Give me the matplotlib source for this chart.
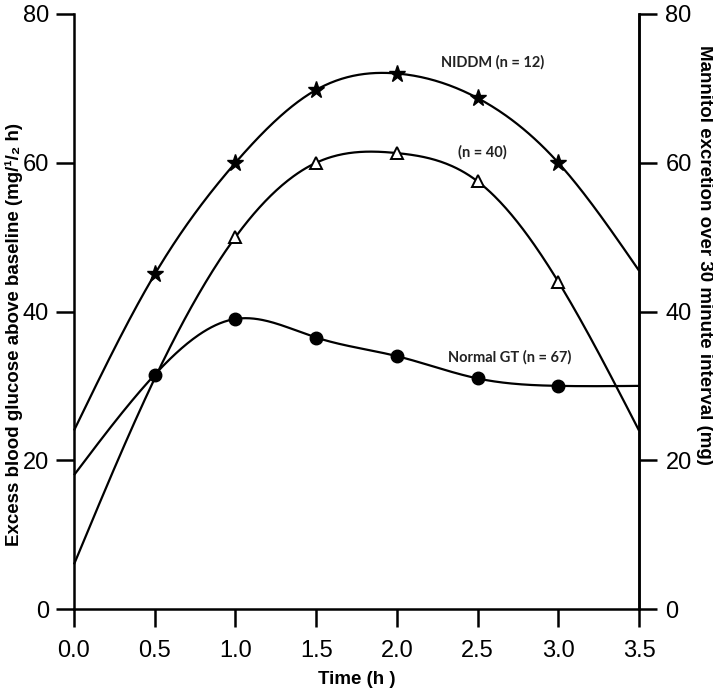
import numpy as np
import matplotlib
matplotlib.use("Agg")
import matplotlib.pyplot as plt
from matplotlib import font_manager

# ---- data ----
times = [0.5, 1.0, 1.5, 2.0, 2.5, 3.0]
niddm = [45.0, 60.0, 69.8, 72.0, 68.7, 60.0]
igt_times = [1.0, 1.5, 2.0, 2.5, 3.0]
igt = [50.0, 60.0, 61.3, 57.5, 44.0]
normal = [31.5, 39.0, 36.5, 34.0, 31.0, 30.0]

# smooth-curve knots (curves extend to the axis limits)
curve_times = [0.0, 0.5, 1.0, 1.5, 2.0, 2.5, 3.0, 3.5]
niddm_curve = [24.0, 45.0, 60.0, 69.8, 72.0, 68.7, 60.0, 45.5]
igt_curve = [6.0, 31.0, 50.0, 60.0, 61.3, 57.5, 44.0, 24.0]
normal_curve = [18.0, 31.5, 39.0, 36.5, 34.0, 31.0, 30.0, 30.0]

xticks = [0.0, 0.5, 1.0, 1.5, 2.0, 2.5, 3.0, 3.5]
yticks = [0, 20, 40, 60, 80]


def natural_spline(x, y, xs):
    x = np.asarray(x, float)
    y = np.asarray(y, float)
    n = len(x)
    h = np.diff(x)
    A = np.zeros((n, n))
    r = np.zeros(n)
    A[0, 0] = 1
    A[-1, -1] = 1
    for i in range(1, n - 1):
        A[i, i - 1] = h[i - 1]
        A[i, i] = 2 * (h[i - 1] + h[i])
        A[i, i + 1] = h[i]
        r[i] = 3 * ((y[i + 1] - y[i]) / h[i] - (y[i] - y[i - 1]) / h[i - 1])
    c = np.linalg.solve(A, r)
    b = np.zeros(n - 1)
    d = np.zeros(n - 1)
    for i in range(n - 1):
        b[i] = (y[i + 1] - y[i]) / h[i] - h[i] * (2 * c[i] + c[i + 1]) / 3
        d[i] = (c[i + 1] - c[i]) / (3 * h[i])
    idx = np.clip(np.searchsorted(x, xs) - 1, 0, n - 2)
    dx = xs - x[idx]
    return y[idx] + b[idx] * dx + c[idx] * dx ** 2 + d[idx] * dx ** 3


installed = {f.name for f in font_manager.fontManager.ttflist}
narrow = [f for f in ['Liberation Sans Narrow', 'Liberation Sans', 'DejaVu Sans'] if f in installed]
if 'DejaVu Sans' not in narrow:
    narrow.append('DejaVu Sans')

plt.rcParams['font.family'] = ['Liberation Sans', 'DejaVu Sans']

fig = plt.figure(figsize=(7.13, 6.93), dpi=100)
ax = fig.add_axes([74 / 713, 1 - 609 / 693, (639 - 74) / 713, (609 - 14) / 693])

xs = np.linspace(0, 3.5, 400)
for cy in (niddm_curve, igt_curve, normal_curve):
    ax.plot(xs, natural_spline(curve_times, cy, xs), color='black', lw=1.6,
            solid_capstyle='butt', clip_on=False, zorder=2)

ax.plot(times, niddm, linestyle='none', marker='*', ms=12.5, color='black',
        mec='black', zorder=3)
ax.plot(igt_times, igt, linestyle='none', marker='^', ms=9, mfc='white',
        mec='black', mew=1.4, zorder=3)
ax.plot(times, normal, linestyle='none', marker='o', ms=9, color='black',
        zorder=3)

ax.set_xlim(0, 3.5)
ax.set_ylim(0, 80)
ax.set_xticks(xticks)
ax.set_xticklabels([f"{t:.1f}" for t in xticks])
ax.set_yticks(yticks)

for s in ('left', 'bottom', 'right'):
    ax.spines[s].set_linewidth(1.8)
ax.spines['top'].set_visible(False)
ax.tick_params(axis='both', direction='out', length=13, width=1.8,
               labelsize=17, pad=5)
ax.tick_params(axis='x', pad=9)

ax2 = ax.twinx()
ax2.set_ylim(0, 80)
ax2.set_yticks(yticks)
ax2.spines['top'].set_visible(False)
ax2.spines['right'].set_linewidth(1.8)
ax2.spines['left'].set_visible(False)
ax2.spines['bottom'].set_visible(False)
ax2.tick_params(axis='y', direction='out', length=13, width=1.8,
                labelsize=17, pad=6)

lfont = dict(fontsize=13.5, fontweight='bold', family=narrow)
ax.set_xlabel("Time (h )", va='center', **lfont)
ax.xaxis.set_label_coords((357 - 74) / 565, -(679 - 609) / 595)
ax.set_ylabel("Excess blood glucose above baseline (mg/¹/₂ h)", va='center', **lfont)
ax.yaxis.set_label_coords((14 - 74) / 565, (609 - 335) / 595)
ax2.set_ylabel("Mannitol excretion over 30 minute interval (mg)", rotation=270,
               va='center', **lfont)
ax2.yaxis.set_label_coords((704 - 74) / 565, (609 - 255) / 595)

afont = dict(fontsize=10.5, fontweight='bold', family=['Lato', 'DejaVu Sans'],
             color='#222222', ha='center', va='center')
ax.text(2.596, 73.5, "NIDDM (n = 12)", **afont)
ax.text(2.527, 61.4, "(n = 40)", **afont)
ax.text(2.70, 33.9, "Normal GT (n = 67)", **afont)

fig.savefig("out.png", dpi=100)
